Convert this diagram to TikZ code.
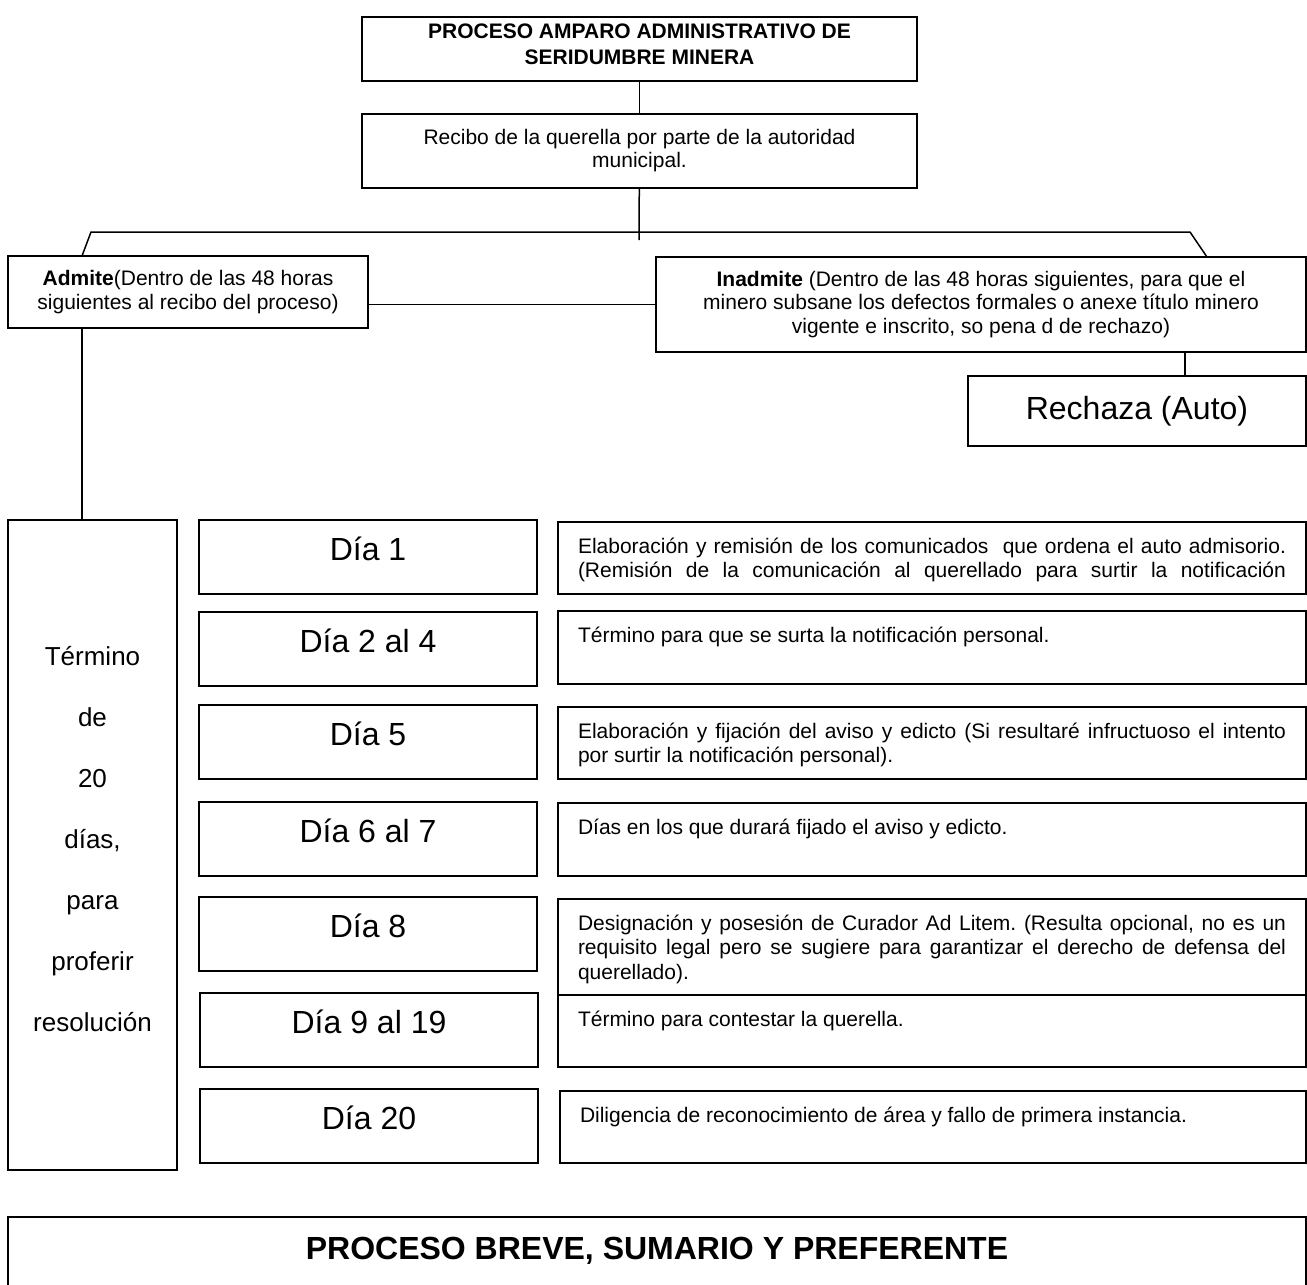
\documentclass[tikz,border=0pt]{standalone}
\usepackage{fontspec}
\setmainfont{Liberation Sans}
\usetikzlibrary{calc}
\frenchspacing

\newcommand{\desctxt}[2]{\parbox[c][#1][t]{708pt}{\vspace*{14pt}\strut #2}}
\newcommand{\lowpad}[1]{\rule[-#1]{0pt}{#1}}

\begin{document}
\begin{tikzpicture}[x=1pt, y=-1pt,
	box/.style={draw, line width=1.5pt, rectangle, anchor=north west, outer sep=0pt, inner sep=0pt, align=center},
	daybox/.style={box, minimum width=338pt, text height=40pt, text depth=34pt, font=\fontsize{32}{38}\selectfont},
	descbox/.style={box, inner xsep=20pt, font=\fontsize{21}{24.5}\selectfont},
	link/.style={line width=1.5pt}]
	\useasboundingbox (0,0) rectangle (1307,1285);

	\node[box, minimum width=555pt, minimum height=64pt, font=\bfseries\fontsize{21}{26}\selectfont] (title) at (362,17) {PROCESO AMPARO ADMINISTRATIVO DE\\SERIDUMBRE MINERA\lowpad{10pt}};
	\node[box, minimum width=555pt, minimum height=74pt, font=\fontsize{21}{23}\selectfont] (recibo) at (362,114) {Recibo de la querella por parte de la autoridad\\municipal.};
	\node[box, minimum width=360pt, minimum height=72pt, font=\fontsize{21}{24}\selectfont] (admite) at (8,256) {\textbf{Admite}(Dentro de las 48 horas\\siguientes al recibo del proceso)};
	\node[box, minimum width=650pt, minimum height=95pt, font=\fontsize{21}{23.5}\selectfont] (inadmite) at (656,257) {\textbf{Inadmite} (Dentro de las 48 horas siguientes, para que el\\minero subsane los defectos formales o anexe título minero\\vigente e inscrito, so pena d de rechazo)};
	\node[box, minimum width=338pt, minimum height=70pt, font=\fontsize{32}{38}\selectfont] (rechaza) at (968,376) {Rechaza (Auto)};

	\node[box, minimum width=169pt, minimum height=650pt, font=\fontsize{26}{61}\selectfont] (term) at (8,520) {Término\\de\\20\\días,\\para\\proferir\\resolución\lowpad{12pt}};

	\node[daybox] (d1) at (199,520) {Día 1};
	\node[daybox] (d2) at (199,612) {Día 2 al 4};
	\node[daybox] (d5) at (199,705) {Día 5};
	\node[daybox] (d6) at (199,802) {Día 6 al 7};
	\node[daybox] (d8) at (199,897) {Día 8};
	\node[daybox] (d9) at (200,993) {Día 9 al 19};
	\node[daybox] (d20) at (200,1089) {Día 20};

	\node[descbox] (t1) at (558,522) {\desctxt{72pt}{Elaboración y remisión de los comunicados\ \ que ordena el auto admisorio.\linebreak \makebox[\linewidth][s]{(Remisión de la comunicación al querellado para surtir la notificación}}};
	\node[descbox] (t2) at (558,611) {\desctxt{73pt}{Término para que se surta la notificación personal.}};
	\node[descbox] (t5) at (558,707) {\desctxt{72pt}{Elaboración y fijación del aviso y edicto (Si resultaré infructuoso el intento\linebreak por surtir la notificación personal).}};
	\node[descbox] (t6) at (558,803) {\desctxt{73pt}{Días en los que durará fijado el aviso y edicto.}};
	\node[descbox] (t8) at (558,899) {\desctxt{96pt}{Designación y posesión de Curador Ad Litem. (Resulta opcional, no es un\linebreak requisito legal pero se sugiere para garantizar el derecho de defensa del\linebreak querellado).}};
	\node[descbox] (t9) at (558,995) {\desctxt{72pt}{Término para contestar la querella.}};
	\node[descbox] (t20) at (560,1091) {\parbox[c][72pt][t]{706pt}{\vspace*{14pt}\strut Diligencia de reconocimiento de área y fallo de primera instancia.}};

	\node[box, minimum width=1298pt, text height=42pt, text depth=40pt, font=\bfseries\fontsize{32}{38}\selectfont] (breve) at (8,1217) {PROCESO BREVE, SUMARIO Y PREFERENTE};

	\coordinate (fork) at (639,240);
	\coordinate (barL) at (91,232);
	\coordinate (barR) at (1190,232);
	\coordinate (admdrop) at ($(admite.south west)+(74,0)$);
	\coordinate (inadrop) at ($(inadmite.south west)+(529,0)$);

	\draw[link] (title) -- (recibo);
	\draw[link] (recibo) -- (fork);
	\draw[link] ($(admite.north west)+(74,0)$) -- (barL) -- (barR) -- ($(inadmite.north west)+(551,0)$);
	\draw[link] (inadmite.west -| admite.east) -- (inadmite.west);
	\draw[link] (inadrop) -- (inadrop |- rechaza.north);
	\draw[link] (admdrop) -- (admdrop |- term.north);

\end{tikzpicture}
\end{document}
